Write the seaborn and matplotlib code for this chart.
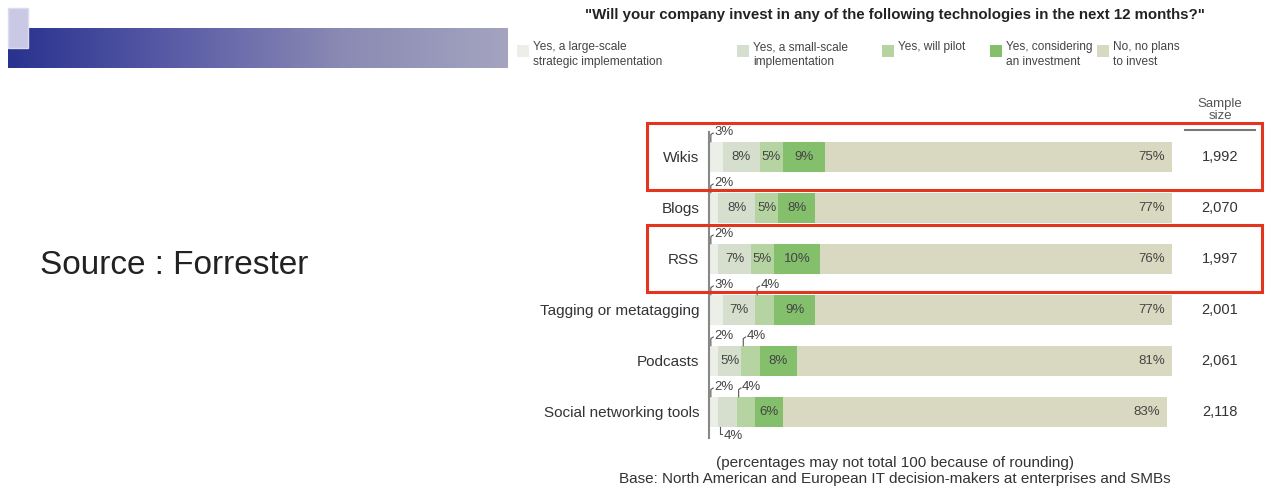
import numpy as np
import pandas as pd
import seaborn as sns
import matplotlib.pyplot as plt
from matplotlib.patches import Rectangle
from matplotlib.colors import LinearSegmentedColormap
from matplotlib.transforms import blended_transform_factory

# survey answers per technology (percent)
techs = ["Wikis", "Blogs", "RSS", "Tagging or metatagging", "Podcasts", "Social networking tools"]
large_scale = [3, 2, 2, 3, 2, 2]
small_scale = [8, 8, 7, 7, 5, 4]
will_pilot = [5, 5, 5, 4, 4, 4]
considering = [9, 8, 10, 9, 8, 6]
no_plans = [75, 77, 76, 77, 81, 83]
sample_size = ["1,992", "2,070", "1,997", "2,001", "2,061", "2,118"]

series_names = ["Yes, a large-scale\nstrategic implementation", "Yes, a small-scale\nimplementation",
                "Yes, will pilot", "Yes, considering\nan investment", "No, no plans\nto invest"]
colors = ["#eceee8", "#d6dfce", "#b6d3a2", "#84bf6c", "#d9d8c0"]

# labels drawn outside the bar: (row, series) -> side
outside = {(0, 0): "above", (1, 0): "above", (2, 0): "above",
           (3, 0): "above", (3, 2): "above",
           (4, 0): "above", (4, 2): "above",
           (5, 0): "above", (5, 2): "above", (5, 1): "below"}
highlight = ["Wikis", "RSS"]

values = np.array([large_scale, small_scale, will_pilot, considering, no_plans]).T
cum = values.cumsum(axis=1)
df = pd.DataFrame(cum, columns=series_names)
df["tech"] = techs

W, H = 1281, 495
fig = plt.figure(figsize=(W / 100, H / 100), dpi=100)
plt.rcParams["font.family"] = ["Liberation Sans", "DejaVu Sans"]

def fx(px):
    return px / W

def fy(py):
    return 1 - py / H

# slide decoration: gradient title bar and small square
bar_ax = fig.add_axes([fx(8), fy(68), fx(500), 40 / H])
grad = np.linspace(0, 1, 256).reshape(1, -1)
cmap = LinearSegmentedColormap.from_list("slide", ["#28328f", "#5a5ca6", "#8a8ab4", "#a4a4c0"])
bar_ax.imshow(grad, aspect="auto", cmap=cmap)
bar_ax.axis("off")
fig.patches.append(Rectangle((fx(8), fy(48)), fx(20), 40 / H, transform=fig.transFigure,
                             facecolor="#c9c9e6", edgecolor="#dcdcee", lw=1.0, zorder=5))

fig.text(fx(40), fy(265), "Source : Forrester", fontsize=24, color="#222222",
         ha="left", va="center")

# stacked bars
ax = fig.add_axes([fx(709), fy(437.5), fx(463), 306 / H])
for k in range(len(series_names) - 1, -1, -1):
    sns.barplot(data=df, x=series_names[k], y="tech", orient="h", color=colors[k],
                saturation=1, width=0.6, ax=ax, zorder=2)
ax.set_xlim(0, 100)
ax.set_ylim(5.5, -0.5)
ax.set_xlabel("")
ax.set_ylabel("")
ax.set_xticks([])
for s in ["top", "right", "bottom"]:
    ax.spines[s].set_visible(False)
ax.spines["left"].set_color("#888888")
ax.spines["left"].set_linewidth(1.5)
ax.tick_params(axis="y", length=0, pad=7, labelsize=11, labelcolor="#333333")

lab_kw = dict(fontsize=9.5, color="#444444", va="center")
for i in range(len(techs)):
    for k in range(len(series_names)):
        start = cum[i, k] - values[i, k]
        mid = start + values[i, k] / 2
        txt = f"{values[i, k]}%"
        side = outside.get((i, k))
        if side == "above":
            ax.plot([start + 0.4, start + 0.4, start + 0.9], [i - 0.3, i - 0.44, i - 0.47],
                    color="#555555", lw=0.8, clip_on=False, zorder=3)
            ax.text(start + 1.1, i - 0.49, txt, ha="left", clip_on=False, **lab_kw)
        elif side == "below":
            ax.plot([start + 0.4, start + 0.4, start + 0.9], [i + 0.3, i + 0.44, i + 0.44],
                    color="#555555", lw=0.8, clip_on=False, zorder=3)
            ax.text(start + 1.1, i + 0.47, txt, ha="left", clip_on=False, **lab_kw)
        elif k == len(series_names) - 1:
            ax.text(cum[i, k] - 1.5, i, txt, ha="right", **lab_kw)
        else:
            ax.text(mid, i, txt, ha="center", **lab_kw)

# sample size column
bt = blended_transform_factory(fig.transFigure, ax.transData)
ax.text(fx(1220), -0.92, "Sample\nsize", transform=bt, ha="center", va="center",
        fontsize=9.5, color="#555555", linespacing=1.0, clip_on=False)
ax.plot([fx(1185), fx(1255)], [-0.53, -0.53], transform=bt, color="#777777", lw=1.5, clip_on=False)
for i, n in enumerate(sample_size):
    ax.text(fx(1220), i, n, transform=bt, ha="center", va="center", fontsize=10.5,
            color="#333333", clip_on=False)

# red highlight boxes
for name in highlight:
    i = techs.index(name)
    ax.add_patch(Rectangle((fx(647), i - 0.66), fx(615), 1.3, transform=bt, fill=False,
                           edgecolor="#e2341f", lw=2.2, clip_on=False, zorder=6))

# title
fig.text(fx(895), fy(15), "\"Will your company invest in any of the following technologies in the next 12 months?\"",
         ha="center", va="center", fontsize=10.8, fontweight="bold", color="#222222")

# legend entries placed like the original (patch left edges in pixels)
legend_x = [517, 737, 882, 990, 1097]
for lx, name, c in zip(legend_x, series_names, colors):
    fig.patches.append(Rectangle((fx(lx), fy(57)), fx(12), 12 / H, transform=fig.transFigure,
                                 facecolor=c, edgecolor="none"))
    fig.text(fx(lx + 16), fy(41), name, ha="left", va="top", fontsize=8.6,
             color="#444444", linespacing=1.3)

# footer
fig.text(fx(895), fy(463), "(percentages may not total 100 because of rounding)",
         ha="center", va="center", fontsize=11, color="#333333")
fig.text(fx(895), fy(479), "Base: North American and European IT decision-makers at enterprises and SMBs",
         ha="center", va="center", fontsize=11, color="#333333")

fig.savefig("out.png", dpi=100)
